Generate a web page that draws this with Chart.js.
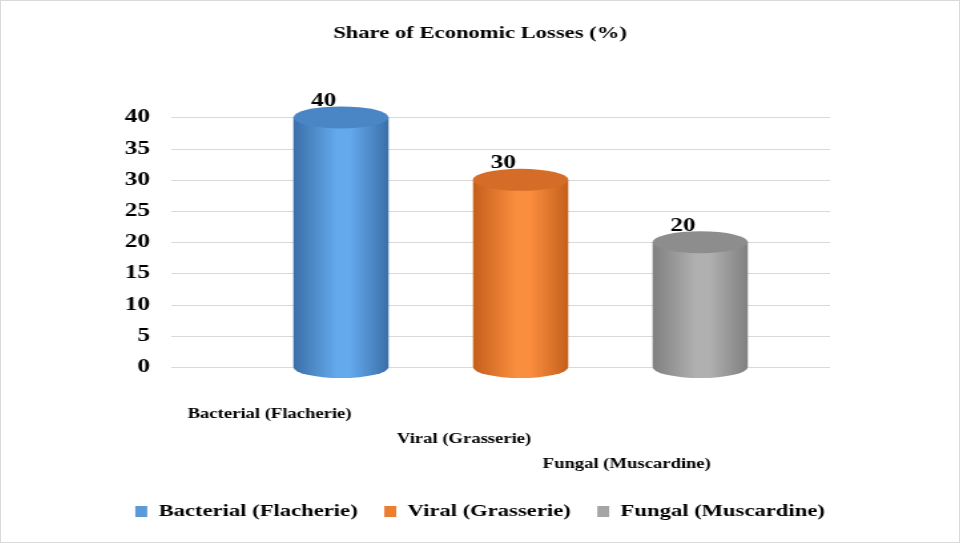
<!DOCTYPE html>
<html>
<head>
<meta charset="utf-8">
<script src="https://cdn.jsdelivr.net/npm/chart.js@4"></script>
<style>
  html, body { margin: 0; padding: 0; background: #fff; overflow: hidden; }
  #frame { width: 958px; height: 541px; border: 1px solid #d9d9d9; overflow: hidden; }
  /* the source picture is stretched sideways, so the drawing is too */
  #wrap { width: 720px; height: 541px; transform: scaleX(1.3306); transform-origin: 0 0; }
</style>
</head>
<body>
<div id="frame"><div id="wrap"><canvas id="lossChart" width="720" height="541"></canvas></div></div>
<script>
// chart data
const categories = ['Bacterial (Flacherie)', 'Viral (Grasserie)', 'Fungal (Muscardine)'];
const lossShare = [40, 30, 20];
const yTicks = [0, 5, 10, 15, 20, 25, 30, 35, 40];

// cylinder colours: [edge, highlight, top cap]
const tones = [
    ['#3b6fa8', '#63a9ec', '#4a86c6'],
    ['#c45f1c', '#fa8e3e', '#d56c27'],
    ['#808080', '#b0b0b0', '#8d8d8d'],
];
const legendColors = ['#5b9bd5', '#ed7d31', '#a5a5a5'];
const serif = '"Liberation Serif", "Times New Roman", serif';

// light grid lines, started just right of the tick labels
const gridPlugin = {
    id: 'wallGrid',
    beforeDatasetsDraw(chart) {
        const ctx = chart.ctx;
        const yScale = chart.scales.y;
        const area = chart.chartArea;
        ctx.save();
        ctx.strokeStyle = '#d9d9d9';
        ctx.lineWidth = 1;
        yScale.ticks.forEach(t => {
            const py = Math.round(yScale.getPixelForValue(t.value)) + 0.5;
            ctx.beginPath();
            ctx.moveTo(yScale.right - 60, py);
            ctx.lineTo(area.right + 30, py);
            ctx.stroke();
        });
        ctx.restore();
    }
};

// draws every bar as a shaded cylinder from the bar element geometry
const cylinderPlugin = {
    id: 'cylinders',
    afterDatasetsDraw(chart) {
        const ctx = chart.ctx;
        const meta = chart.getDatasetMeta(0);
        meta.data.forEach((bar, i) => {
            const { x, y, base, width } = bar.getProps(['x', 'y', 'base', 'width'], true);
            const left = x - width / 2, right = x + width / 2;
            const ry = 11;
            const [edge, light, cap] = tones[i];

            const grad = ctx.createLinearGradient(left, 0, right, 0);
            grad.addColorStop(0, edge);
            grad.addColorStop(0.45, light);
            grad.addColorStop(0.6, light);
            grad.addColorStop(1, edge);

            ctx.save();
            ctx.fillStyle = grad;
            ctx.beginPath();
            ctx.moveTo(left, y);
            ctx.lineTo(left, base);
            ctx.ellipse(x, base, width / 2, ry, 0, Math.PI, 0, true);
            ctx.lineTo(right, y);
            ctx.closePath();
            ctx.fill();

            ctx.fillStyle = cap;
            ctx.beginPath();
            ctx.ellipse(x, y, width / 2, ry, 0, 0, Math.PI * 2);
            ctx.fill();

            // value label
            ctx.fillStyle = '#000';
            ctx.font = 'bold 19px ' + serif;
            ctx.textAlign = 'center';
            ctx.textBaseline = 'bottom';
            ctx.fillText(String(lossShare[i]), x - width * 0.18, y - ry + 4);
            ctx.restore();
        });
    }
};

new Chart(document.getElementById('lossChart'), {
    type: 'bar',
    data: {
        labels: categories,
        datasets: [{
            label: 'Share of Economic Losses (%)',
            data: lossShare,
            backgroundColor: 'rgba(0,0,0,0)',
            categoryPercentage: 1,
            barPercentage: 0.53,
        }]
    },
    options: {
        responsive: false,
        animation: false,
        layout: { padding: { left: 60, right: 60, top: 0, bottom: 12 } },
        plugins: {
            title: {
                display: true,
                text: 'Share of Economic Losses (%)',
                color: '#000',
                font: { family: serif, size: 17, weight: 'bold' },
                padding: { top: 22, bottom: 74 },
            },
            legend: {
                position: 'bottom',
                labels: {
                    color: '#000',
                    font: { family: serif, size: 17, weight: 'bold' },
                    boxWidth: 9,
                    boxHeight: 11,
                    padding: 20,
                    generateLabels: () => categories.map((c, i) => ({
                        text: c,
                        fillStyle: legendColors[i],
                        strokeStyle: legendColors[i],
                        lineWidth: 0,
                        index: i,
                    })),
                },
                onClick: null,
            },
            tooltip: { enabled: false },
        },
        scales: {
            x: {
                afterFit: (axis) => { axis.height = 116; },
                grid: { display: false, drawTicks: false },
                border: { display: false },
                ticks: {
                    color: '#000',
                    font: { family: serif, size: 14, weight: 'bold', lineHeight: '25px' },
                    padding: 35,
                    align: 'end',
                    labelOffset: 8,
                    maxRotation: 0,
                    autoSkip: false,
                    callback: (v, i) => Array(i).fill('').concat(categories[i]),
                },
            },
            y: {
                min: 0,
                max: 40,
                afterBuildTicks: (axis) => { axis.ticks = yTicks.map(v => ({ value: v })); },
                afterFit: (axis) => { axis.width = 128; },
                grid: { display: false },
                border: { display: false },
                ticks: {
                    color: '#000',
                    font: { family: serif, size: 19, weight: 'bold' },
                    padding: 68,
                    autoSkip: false,
                },
            },
            // empty spacer on the right so the plot keeps its place
            yRight: {
                position: 'right',
                min: 0,
                max: 40,
                afterFit: (axis) => { axis.width = 67; },
                grid: { display: false },
                border: { display: false },
                ticks: { display: false },
            },
        },
    },
    plugins: [gridPlugin, cylinderPlugin],
});
</script>
</body>
</html>
